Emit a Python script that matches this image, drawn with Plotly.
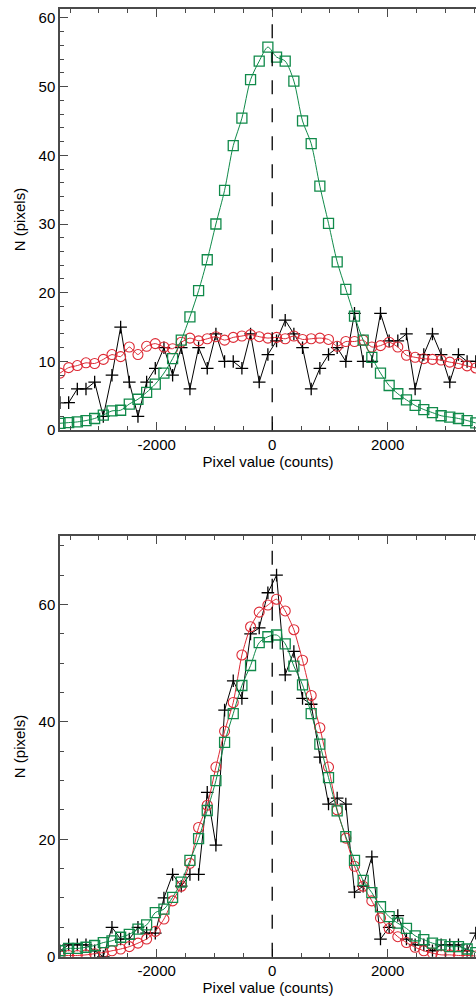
import plotly.graph_objects as go

# Bin centres (counts)
bin_centers = [-3675 + 150 * i for i in range(49)]

# Tick labels
x_tickvals = [-2000, 0, 2000]
x_ticktext = ["-2000", "0", "2000"]

# Top panel
top_black = [4, 4, 6, 6, 7, 2, 8, 15, 7, 2, 7, 9, 12, 8, 12, 6, 12, 9, 14, 10, 10, 9, 14, 7, 11,
             13, 16, 14, 12, 6, 9, 11, 12, 10, 17, 10, 10, 17, 13, 13, 14, 6, 11, 14, 11, 7, 11, 10, 10]
top_red = [8.3, 9.1, 9.4, 9.8, 9.7, 10.3, 11.0, 10.7, 12.1, 11.0, 12.2, 12.6, 12.1, 11.85, 12.8, 13.4,
           13.0, 13.3, 13.6, 13.1, 13.5, 13.7, 13.9, 13.6, 13.4,
           13.5, 13.3, 13.7, 13.2, 13.3, 13.4, 13.2, 12.2, 12.9, 12.9, 13.1, 12.1, 12.3, 12.8, 12.1,
           10.9, 10.6, 10.4, 10.3, 10.2, 9.9, 9.7, 9.35, 9.05]
top_green = [1.0, 1.1, 1.2, 1.4, 1.7, 2.2, 2.8, 2.9, 3.8, 4.5, 5.5, 6.7, 8.3, 10.4, 13.1, 16.5, 20.3,
             24.8, 30.0, 34.9, 41.4, 45.4, 51.0, 53.7, 55.75,
             54.3, 53.7, 50.8, 45.0, 41.7, 35.5, 30.1, 24.5, 20.5, 16.6, 13.1, 10.6, 8.3, 6.5, 5.3,
             4.4, 3.6, 3.0, 2.55, 2.1, 1.9, 1.7, 1.4, 1.05]

# Bottom panel
bot_black = [1, 2, 2, 2, 1, 0, 5, 3, 3, 5, 4, 4, 10, 14, 12, 14, 14, 28, 19, 42, 47, 44, 55, 56, 62,
             65, 48, 52, 44, 43, 34, 26, 27, 26, 11, 12, 17, 3, 5, 7, 3, 2, 2, 1, 2, 2, 2, 1, 4]
bot_red = [0.2, 0.2, 0.2, 0.3, 0.5, 0.7, 1.0, 1.3, 1.7, 2.3, 3.0, 4.3, 6.4, 9.5, 12.0, 15.9, 22.0,
           25.8, 32.3, 38.4, 43.3, 51.4, 56.2, 58.7, 59.9,
           60.9, 58.9, 55.7, 50.5, 44.5, 39.0, 32.3, 25.0, 20.2, 15.4, 12.0, 9.5, 6.6, 4.8, 3.4,
           2.4, 1.6, 1.0, 0.6, 0.3, 0.3, 0.2, 0.2, 0.1]
bot_green = [1.0, 1.4, 1.4, 1.6, 1.9, 2.4, 2.7, 3.3, 3.8, 4.7, 5.4, 7.5, 8.1, 10.1, 12.7, 16.4, 20.1,
             24.9, 30.0, 36.5, 41.4, 46.2, 49.6, 53.5, 54.5,
             54.8, 53.3, 49.5, 46.3, 41.4, 36.2, 30.5, 24.85, 20.45, 16.4, 13.0, 10.9, 8.5, 6.8, 5.7,
             4.8, 3.55, 2.9, 2.3, 2.0, 1.7, 1.7, 1.3, 0.7]

BLACK = "#000000"
RED = "#dd2a35"
GREEN = "#108a4a"
AXIS = "#4a4a4a"
FONT = "Liberation Sans, Arial, Helvetica, sans-serif"

fig = go.Figure()


def add_panel(xa, ya, black, red, green):
    fig.add_trace(go.Scatter(
        x=bin_centers, y=black, xaxis=xa, yaxis=ya, mode="lines+markers",
        line=dict(color=BLACK, width=1),
        marker=dict(symbol="cross-thin", size=9, line=dict(color=BLACK, width=1.3)),
        showlegend=False))
    fig.add_trace(go.Scatter(
        x=bin_centers, y=red, xaxis=xa, yaxis=ya, mode="lines+markers",
        line=dict(color=RED, width=1, shape="spline", smoothing=0.6),
        marker=dict(symbol="circle-open", size=10, color=RED, line=dict(color=RED, width=1.1)),
        showlegend=False))
    fig.add_trace(go.Scatter(
        x=bin_centers, y=green, xaxis=xa, yaxis=ya, mode="lines+markers",
        line=dict(color=GREEN, width=1, shape="spline", smoothing=0.8),
        marker=dict(symbol="square-open", size=10, color=GREEN, line=dict(color=GREEN, width=1.3)),
        showlegend=False))


add_panel("x", "y", top_black, top_red, top_green)
add_panel("x2", "y2", bot_black, bot_red, bot_green)

H = 1007.0
top_dom = [1 - 433.6 / H, 1 - 9 / H]
bot_dom = [1 - 964.3 / H, 1 - 540.7 / H]

xcommon = dict(
    range=[-3675, 3529], tickmode="array", tickvals=x_tickvals, ticktext=x_ticktext,
    ticks="inside", ticklen=8, tickwidth=1, tickcolor=AXIS,
    showline=True, linecolor=AXIS, linewidth=1.5, mirror="ticks",
    showgrid=False, zeroline=False,
    minor=dict(tickmode="linear", dtick=500, tick0=0, ticks="inside", ticklen=4, tickcolor=AXIS,
               showgrid=False),
    tickfont=dict(family=FONT, size=15, color="black"),
    title=dict(text="Pixel value (counts)", font=dict(family=FONT, size=15, color="black"), standoff=3),
    domain=[0, 1],
)
ycommon = dict(
    ticks="inside", ticklen=8, tickwidth=1, tickcolor=AXIS,
    showline=True, linecolor=AXIS, linewidth=1.5,
    showgrid=False, zeroline=False,
    tickfont=dict(family=FONT, size=15, color="black"),
    title=dict(text="N (pixels)", font=dict(family=FONT, size=15, color="black"), standoff=9),
)

fig.update_layout(
    width=476, height=1007,
    margin=dict(l=60, r=0, t=0, b=0),
    paper_bgcolor="white", plot_bgcolor="white",
    xaxis=dict(xcommon, anchor="y"),
    yaxis=dict(ycommon, anchor="x", domain=top_dom, range=[0, 61.3], tickmode="linear", tick0=0, dtick=10,
               minor=dict(dtick=2, tick0=0, ticks="inside", ticklen=4, tickcolor=AXIS, showgrid=False)),
    xaxis2=dict(xcommon, anchor="y2"),
    yaxis2=dict(ycommon, anchor="x2", domain=bot_dom, range=[0, 71.6], tickmode="linear", tick0=0, dtick=20,
                minor=dict(dtick=5, tick0=0, ticks="inside", ticklen=4, tickcolor=AXIS, showgrid=False)),
    shapes=[
        dict(type="line", xref="x", yref="y domain", x0=0, x1=0, y0=0, y1=1,
             line=dict(color="black", width=1.3, dash="14px,14px")),
        dict(type="line", xref="x2", yref="y2 domain", x0=0, x1=0, y0=0, y1=1,
             line=dict(color="black", width=1.3, dash="14px,14px")),
    ],
)

fig.write_html("out.html")
